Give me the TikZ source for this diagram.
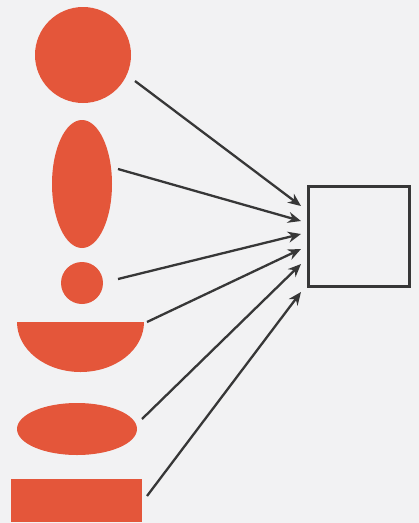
\documentclass[tikz,border=0pt]{standalone}
\usetikzlibrary{shapes.geometric,arrows.meta}
\definecolor{shapefill}{RGB}{228,86,58}
\definecolor{inkline}{RGB}{55,55,55}
\definecolor{paper}{RGB}{242,242,243}
\begin{document}
\begin{tikzpicture}[x=1pt,y=-1pt,
  blob/.style={fill=shapefill,draw=none,inner sep=0pt,outer sep=0pt},
  conn/.style={draw=inkline,line width=2.3pt,-{Stealth[length=13pt,width=11pt]}},
  target/.style={draw=inkline,line width=3pt,inner sep=0pt,minimum width=101pt,minimum height=100pt}]
\useasboundingbox (0,0) rectangle (419,523);
\fill[paper] (0,0) rectangle (419,523);
% shapes
\node[blob,circle,minimum size=96pt] (c1) at (83,55) {};
\node[blob,ellipse,minimum width=60pt,minimum height=128pt] (e1) at (82,184) {};
\node[blob,circle,minimum size=42pt] (c2) at (82,283) {};
\fill[shapefill] (17,322) -- (144,322) arc[start angle=0,end angle=180,x radius=63.5,y radius=50] -- cycle;
\node[blob,ellipse,minimum width=120pt,minimum height=52pt] (e2) at (77,429) {};
\node[blob,rectangle,minimum width=131pt,minimum height=43pt] (r1) at (76.5,500.5) {};
% target box
\node[target] (box) at (359,236.5) {};
% connector ends
\coordinate (s1) at (135,81);
\coordinate (s2) at (118,169);
\coordinate (s3) at (118,279);
\coordinate (s4) at (147,322);
\coordinate (s5) at (142,419);
\coordinate (s6) at (147,496);
\coordinate (t1) at (301,206);
\coordinate (t2) at (301,221);
\coordinate (t3) at (301,234);
\coordinate (t4) at (301,249);
\coordinate (t5) at (301,264);
\coordinate (t6) at (301,292);
\foreach \i in {1,...,6} \draw[conn] (s\i) -- (t\i);
\end{tikzpicture}
\end{document}
